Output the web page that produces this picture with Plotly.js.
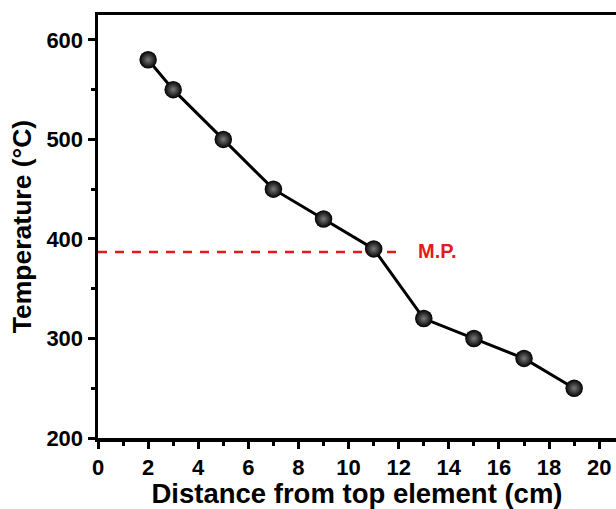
<!DOCTYPE html>
<html><head><meta charset="utf-8">
<script src="https://cdn.plot.ly/plotly-3.0.1.min.js"></script>
<style>html,body{margin:0;padding:0;background:#fff;overflow:hidden}</style>
</head><body><div id="chart" style="width:616px;height:509px"></div>
<script>
const distance = [2, 3, 5, 7, 9, 11, 13, 15, 17, 19];
const temperature = [580, 550, 500, 450, 420, 390, 320, 300, 280, 250];
const mpX = [0, 12.2];
const mpY = [387, 387];
const mpLabel = 'M.P.';
const xTickVals = [0, 2, 4, 6, 8, 10, 12, 14, 16, 18, 20];
const yTickVals = [200, 300, 400, 500, 600];
const xTitle = 'Distance from top element (cm)';
const yTitle = 'Temperature (°C)';

const font = 'Liberation Sans, Arial, sans-serif';
const traces = [
  {x: mpX, y: mpY, mode: 'lines', line: {color: '#e31a1c', width: 2.5, dash: '9px,8px'}, hoverinfo: 'skip'},
  {x: distance, y: temperature, mode: 'lines+markers',
   line: {color: '#000', width: 3},
   marker: {size: 17.5, color: '#000', gradient: {type: 'radial', color: '#7a7a7a'}, line: {width: 0}}}
];
const axisCommon = {
  showgrid: false, zeroline: false, showline: true, linewidth: 3.5, linecolor: '#000',
  ticks: 'outside', ticklen: 7, tickwidth: 3, tickcolor: '#000',
  tickfont: {size: 22, family: font, color: '#000', weight: 700}
};
const layout = {
  width: 616, height: 509,
  margin: {l: 98, r: 0, t: 15, b: 71},
  showlegend: false,
  paper_bgcolor: '#fff', plot_bgcolor: '#fff',
  font: {family: font, color: '#000'},
  xaxis: Object.assign({}, axisCommon, {range: [0, 20.67], tickvals: xTickVals,
    ticktext: xTickVals.map(v => '<b>' + v + '</b>'), mirror: true,
    minor: {dtick: 1, tick0: 0, ticks: 'outside', ticklen: 4, tickwidth: 3, tickcolor: '#000'},
    title: {text: '<b>' + xTitle + '</b>', font: {size: 27.5, family: font, color: '#000'}, standoff: 1}}),
  yaxis: Object.assign({}, axisCommon, {range: [200, 625], tickvals: yTickVals,
    ticktext: yTickVals.map(v => '<b>' + v + '</b>'),
    minor: {dtick: 50, tick0: 200, ticks: 'outside', ticklen: 4, tickwidth: 3, tickcolor: '#000'},
    title: {text: '<b>' + yTitle + '</b>', font: {size: 26.5, family: font, color: '#000'}, standoff: 8}}),
  annotations: [{x: mpX[1], y: mpY[0], xref: 'x', yref: 'y', text: '<b>' + mpLabel + '</b>',
    showarrow: false, xanchor: 'left', xshift: 12, yshift: 1, font: {size: 20, color: '#e31a1c', family: font}}]
};
Plotly.newPlot('chart', traces, layout, {displayModeBar: false, staticPlot: true});
</script></body></html>
